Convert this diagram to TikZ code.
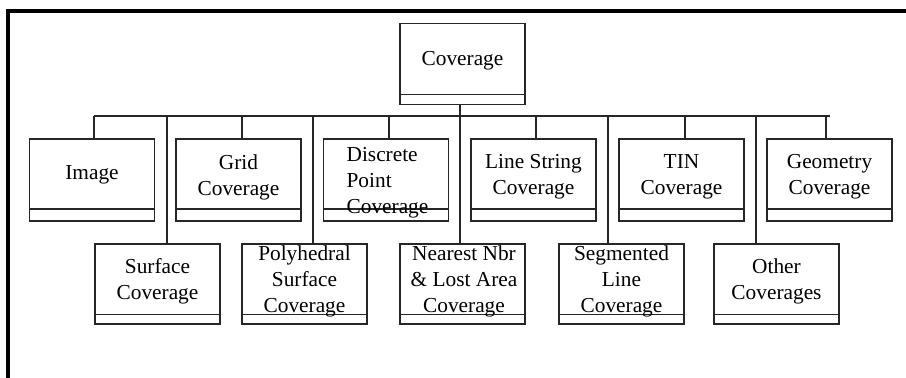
\documentclass[tikz,border=0pt]{standalone}
\usepackage{fontspec}
\setmainfont{Liberation Serif}
\begin{document}
\begin{tikzpicture}[x=0.75pt,y=-0.75pt, line width=1pt,
 cls/.style={draw=black!85, line width=1pt, minimum width=93.75pt, inner sep=0pt},
 rowone/.style={cls, minimum height=61.5pt},
 rowtwo/.style={cls, minimum height=60pt},
 divider/.style={draw=black!85, line width=1pt},
 lbl/.style={align=center, font=\fontsize{16}{19.5}\selectfont, inner sep=0pt, text=black},
 link/.style={draw=black!85, line width=1pt}
]
\useasboundingbox (0,0) rectangle (906,378);
\draw[line width=2.4pt, line join=miter] (8,379) -- (8,11) -- (907,11);

% root
\node[cls, minimum height=61pt] (cov) at (462.5,64) {};
\draw[divider] ([yshift=8.25pt]cov.south west) -- ([yshift=8.25pt]cov.south east);
\node[lbl] (covT) at (462.5,61) {Coverage};

% row one
\node[rowone] (img) at (92,180) {};
\node[rowone] (grid) at (238.5,180) {};
\node[rowone] (disc) at (386,180) {};
\node[rowone] (lstr) at (533.5,180) {};
\node[rowone] (tin) at (681.5,180) {};
\node[rowone] (geom) at (829.5,180) {};
\foreach \n in {img,grid,disc,lstr,tin,geom}
  \draw[divider] ([yshift=9.6pt]\n.south west) -- ([yshift=9.6pt]\n.south east);

\node[lbl] (imgT) at (92,175) {Image};
\node[lbl] (gridT) at (238.5,177.5) {Grid\\Coverage};
\node[lbl, align=left] (discT) at (387.5,183) {Discrete\\Point\\Coverage};
\node[lbl] (lstrT) at (533.5,177) {Line String\\Coverage};
\node[lbl] (tinT) at (681.5,177) {TIN\\Coverage};
\node[lbl] (geomT) at (829.5,177) {Geometry\\Coverage};

% row two
\node[rowtwo] (surf) at (157.5,284) {};
\node[rowtwo] (poly) at (304.5,284) {};
\node[rowtwo] (near) at (462.5,284) {};
\node[rowtwo] (segm) at (621.5,284) {};
\node[rowtwo] (other) at (776.5,284) {};
\foreach \n in {surf,poly,near,segm,other}
  \draw[divider] ([yshift=7.5pt]\n.south west) -- ([yshift=7.5pt]\n.south east);

\node[lbl] (surfT) at (157.5,281) {Surface\\Coverage};
\node[lbl] (polyT) at (304.5,281) {Polyhedral\\Surface\\Coverage};
\node[lbl] (nearT) at (464,281) {Nearest Nbr\\\& Lost Area\\Coverage};
\node[lbl] (segmT) at (621.5,281) {Segmented\\Line\\Coverage};
\node[lbl] (otherT) at (776.5,281) {Other\\Coverages};

% bus
\coordinate (busL) at (94,116);
\coordinate (busR) at (830,116);
\draw[link] (busL) -- (busR);

\coordinate (b1) at (94,116);
\coordinate (b2) at (242,116);
\coordinate (b3) at (389,116);
\coordinate (b4) at (536,116);
\coordinate (b5) at (685,116);
\coordinate (b6) at (826,116);
\draw[link] (b1) -- (b1 |- img.north);
\draw[link] (b2) -- (b2 |- grid.north);
\draw[link] (b3) -- (b3 |- disc.north);
\draw[link] (b4) -- (b4 |- lstr.north);
\draw[link] (b5) -- (b5 |- tin.north);
\draw[link] (b6) -- (b6 |- geom.north);

\coordinate (c1) at (167,116);
\coordinate (c2) at (313,116);
\coordinate (c4) at (608,116);
\coordinate (c5) at (756,116);
\draw[link] (c1) -- (c1 |- surf.north);
\draw[link] (c2) -- (c2 |- poly.north);
\draw[link] (c4) -- (c4 |- segm.north);
\draw[link] (c5) -- (c5 |- other.north);

% root stem
\coordinate (stem) at (460,105);
\draw[link] (stem |- cov.south) -- (stem |- near.north);
\end{tikzpicture}
\end{document}
